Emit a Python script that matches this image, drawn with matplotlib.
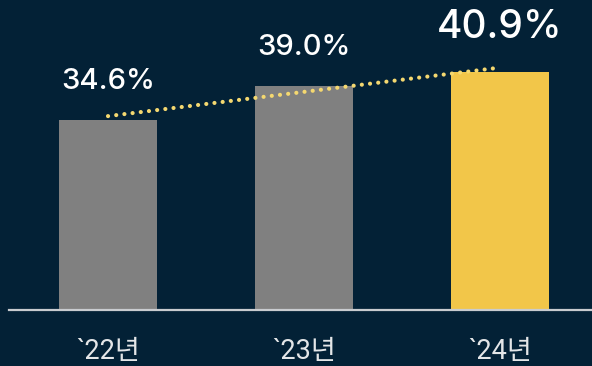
import matplotlib.pyplot as plt

years = ['`22년', '`23년', '`24년']
values = [34.6, 39.0, 40.9]
labels = ['34.6%', '39.0%', '40.9%']
bar_colors = ['#808080', '#808080', '#f2c649']

bg = '#032136'
base = 10  # value where the baseline sits

fig = plt.figure(figsize=(5.92, 3.66), dpi=100, facecolor=bg)
ax = fig.add_axes([0, 0, 1, 1], facecolor=bg)

x = range(len(years))
ax.bar(x, [v - base for v in values], bottom=base, width=0.5,
       color=bar_colors, zorder=2)

# baseline
ax.axhline(base, xmin=0.016, xmax=1, color='#c9ccd0', lw=1.6, zorder=3)

# dotted trend line from first to last bar
ax.plot([0, len(values) - 1.03], [values[0] + 0.55, values[-1] + 0.45],
        color='#f4d870', lw=3.0, linestyle=(0, (0.01, 1.97)),
        dash_capstyle='round', zorder=4)

# value labels
sizes = [21, 21, 28]
offsets = [5.0, 5.0, 5.8]
for i, (v, lab) in enumerate(zip(values, labels)):
    ax.text(i, v + offsets[i], lab, ha='center', va='center',
            fontsize=sizes[i], color='white', weight='medium',
            family=['Inter', 'DejaVu Sans'])

# category labels
for i, yr in enumerate(years):
    ax.text(i, 4.6, yr, ha='center', va='center', fontsize=19.5,
            color='#e4e6e8', family=['Roboto', 'Noto Sans CJK KR'])

ax.set_xlim(-0.551, 2.469)
ax.set_ylim(2.74, 50.21)
ax.axis('off')

fig.savefig('out.png', dpi=100, facecolor=bg)
